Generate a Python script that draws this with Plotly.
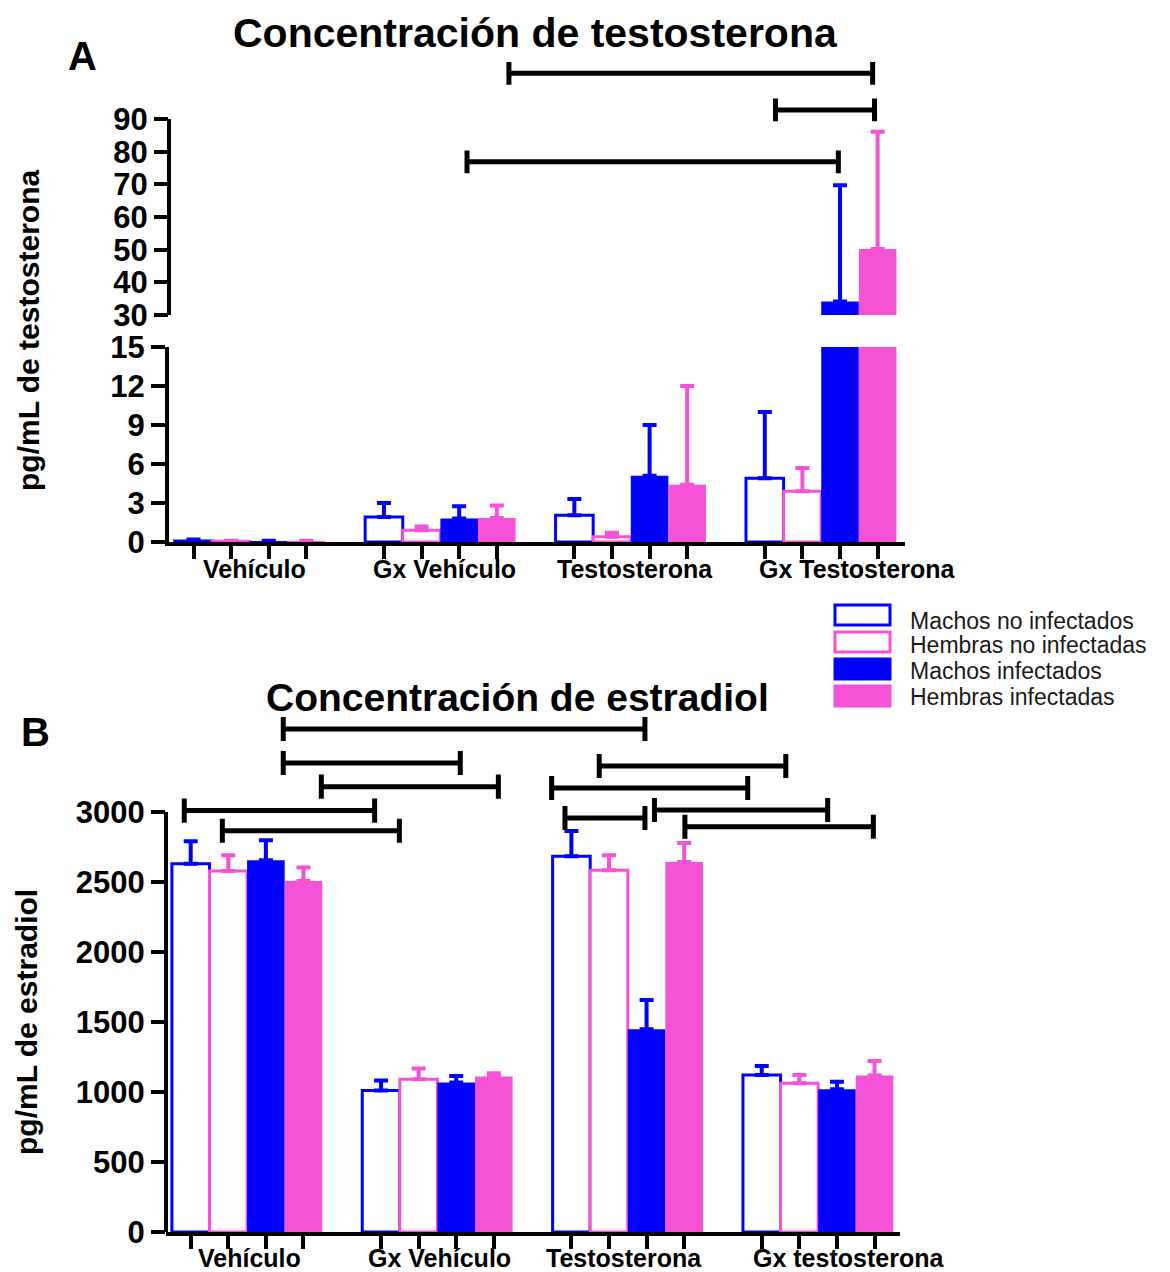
import plotly.graph_objects as go

# ---------------- data ----------------
groups_testo = ["Vehículo", "Gx Vehículo", "Testosterona", "Gx Testosterona"]
groups_estra = ["Vehículo", "Gx Vehículo", "Testosterona", "Gx testosterona"]
series_names = ["Machos no infectados", "Hembras no infectadas",
                "Machos infectados", "Hembras infectadas"]

# Testosterone (pg/mL), mean and upper error
testo_machos_no_inf = [0.08, 1.92, 2.05, 4.9]
testo_machos_no_inf_err = [0.12, 1.08, 1.25, 5.1]
testo_hembras_no_inf = [0.05, 0.9, 0.4, 3.9]
testo_hembras_no_inf_err = [0.05, 0.3, 0.32, 1.8]
testo_machos_inf = [0.05, 1.8, 5.1, 34.1]
testo_machos_inf_err = [0.05, 0.95, 3.9, 35.6]
testo_hembras_inf = [0.05, 1.85, 4.4, 50.2]
testo_hembras_inf_err = [0.05, 0.95, 7.6, 35.9]

# Estradiol (pg/mL), mean and upper error
estra_machos_no_inf = [2631, 1010, 2684, 1122]
estra_machos_no_inf_err = [160, 72, 180, 64]
estra_hembras_no_inf = [2579, 1091, 2584, 1063]
estra_hembras_no_inf_err = [112, 76, 107, 59]
estra_machos_inf = [2655, 1067, 1448, 1020]
estra_machos_inf_err = [143, 48, 209, 54]
estra_hembras_inf = [2508, 1110, 2643, 1117]
estra_hembras_inf_err = [95, 24, 136, 105]

# significance brackets: (x start, x end, level) in axis units
brackets_testo = [(1.36, 3.27, 104.0), (2.76, 3.28, 92.8), (1.14, 3.09, 76.9)]
brackets_estra = [(0.19, 2.09, 3593), (0.19, 1.12, 3350), (0.39, 1.32, 3181),
                  (-0.33, 0.67, 3010), (-0.13, 0.80, 2866), (1.60, 2.63, 3171),
                  (1.85, 2.83, 3329), (1.67, 2.09, 2957), (2.14, 3.05, 3014),
                  (2.30, 3.29, 2895)]

testo_ticks_low = [0, 3, 6, 9, 12, 15]
testo_ticks_high = [30, 40, 50, 60, 70, 80, 90]
estra_ticks = [0, 500, 1000, 1500, 2000, 2500, 3000]

# ---------------- style ----------------
PAGE_W, PAGE_H = 1170, 1272
BODY = 8  # default page margin around the figure
W_FIG, H_FIG = PAGE_W - 2 * BODY, PAGE_H - BODY
BLUE = "#0000FF"
PINK = "#F552D6"
colors = [BLUE, PINK, BLUE, PINK]
filled = [False, False, True, True]
FONT = "Liberation Sans, Arial, sans-serif"
BARGAP = 0.21
BW = (1 - BARGAP) / 4
bar_pos = [g + (k - 1.5) * BW for g in range(4) for k in range(4)]


def fx(p):
    return (p - BODY) / W_FIG


def fy(p):
    return 1 - (p - BODY) / H_FIG


testo_vals = [testo_machos_no_inf, testo_hembras_no_inf, testo_machos_inf, testo_hembras_inf]
testo_errs = [testo_machos_no_inf_err, testo_hembras_no_inf_err, testo_machos_inf_err, testo_hembras_inf_err]
estra_vals = [estra_machos_no_inf, estra_hembras_no_inf, estra_machos_inf, estra_hembras_inf]
estra_errs = [estra_machos_no_inf_err, estra_hembras_no_inf_err, estra_machos_inf_err, estra_hembras_inf_err]


def bar(k, y, err, xa, ya):
    c = colors[k]
    return go.Bar(
        x=list(range(len(y))), y=y, name=series_names[k], xaxis=xa, yaxis=ya,
        offsetgroup=str(k), showlegend=False,
        marker=dict(color=c if filled[k] else "white",
                    line=dict(color=c, width=0 if filled[k] else 3)),
        error_y=dict(type="data", array=err, arrayminus=[0] * len(err),
                     symmetric=False, color=c, thickness=4, width=7),
    )


fig = go.Figure()
for k in range(4):
    fig.add_trace(bar(k, testo_vals[k], testo_errs[k], "x", "y"))
    fig.add_trace(bar(k, testo_vals[k], testo_errs[k], "x2", "y2"))
    fig.add_trace(bar(k, estra_vals[k], estra_errs[k], "x3", "y3"))

tickfont = dict(family=FONT, size=31, color="black", weight="bold")
xcommon = dict(showgrid=False, zeroline=False, showline=True, linewidth=4,
               linecolor="black", ticks="outside", ticklen=13, tickwidth=4,
               tickcolor="black", tickvals=bar_pos, ticktext=[""] * len(bar_pos),
               automargin=False)
ycommon = dict(showgrid=False, zeroline=False, ticks="outside", ticklen=14,
               tickwidth=4, tickcolor="black", tickfont=tickfont, linewidth=4,
               linecolor="black", automargin=False)

XA = [fx(169), fx(905)]
XB = [fx(166), fx(900)]
fig.update_layout(
    width=W_FIG, height=H_FIG, margin=dict(l=0, r=0, t=0, b=0, pad=0),
    autosize=False,
    paper_bgcolor="white", plot_bgcolor="white",
    barmode="group", bargap=BARGAP, bargroupgap=0,
    xaxis=dict(domain=XA, range=[-0.425, 3.44], anchor="y", **xcommon),
    yaxis=dict(domain=[fy(542), fy(347)], range=[0, 15], anchor="x",
               tickvals=testo_ticks_low, showline=True, **ycommon),
    xaxis2=dict(domain=XA, range=[-0.425, 3.44], anchor="y2",
                visible=False, automargin=False),
    yaxis2=dict(domain=[fy(315), fy(57)], range=[30, 109], anchor="x2",
                tickvals=testo_ticks_high, showline=False, **ycommon),
    xaxis3=dict(domain=XB, range=[-0.426, 3.43], anchor="y3", **xcommon),
    yaxis3=dict(domain=[fy(1232), fy(714)], range=[0, 3700], anchor="x3",
                tickvals=estra_ticks, showline=False, **ycommon),
    font=dict(family=FONT, color="black"),
)

shapes = []
# custom y-axis lines (range extended above for brackets)
shapes.append(dict(type="line", xref="x2 domain", yref="y2", x0=0, x1=0,
                   y0=testo_ticks_high[0], y1=testo_ticks_high[-1],
                   line=dict(color="black", width=4)))
shapes.append(dict(type="line", xref="x3 domain", yref="y3", x0=0, x1=0,
                   y0=estra_ticks[0], y1=estra_ticks[-1],
                   line=dict(color="black", width=4)))


def bracket_path(x0, x1, y, c):
    return (f"M{x0},{y - c} L{x0},{y + c} M{x0},{y} L{x1},{y} "
            f"M{x1},{y - c} L{x1},{y + c}")


for x0, x1, y in brackets_testo:
    shapes.append(dict(type="path", xref="x2", yref="y2",
                       path=bracket_path(x0, x1, y, 3.5),
                       line=dict(color="black", width=5)))
for x0, x1, y in brackets_estra:
    shapes.append(dict(type="path", xref="x3", yref="y3",
                       path=bracket_path(x0, x1, y, 86),
                       line=dict(color="black", width=5)))

# legend swatches
leg_tops = [605, 632, 659, 686]
leg_text_y = [621, 645, 671, 697]
annotations = []
for k in range(4):
    shapes.append(dict(type="rect", xref="paper", yref="paper",
                       x0=fx(835), x1=fx(890), y0=fy(leg_tops[k] + 20), y1=fy(leg_tops[k]),
                       fillcolor=colors[k] if filled[k] else "white",
                       line=dict(color=colors[k], width=3)))
    annotations.append(dict(xref="paper", yref="paper", x=fx(908), y=fy(leg_text_y[k]),
                            text=series_names[k], showarrow=False, xanchor="left",
                            yanchor="middle",
                            font=dict(family=FONT, size=23, color="#1a1a1a")))

# group labels
label_font = dict(family=FONT, size=25, color="black", weight="bold")
shift_testo = [5, 4, 4, 36]
shift_estra = [2, 2, -4, 30]
for i, g in enumerate(groups_testo):
    annotations.append(dict(xref="x", yref="y domain", x=i, y=0, yshift=-27,
                            xshift=shift_testo[i], text=g, showarrow=False,
                            yanchor="middle", font=label_font))
for i, g in enumerate(groups_estra):
    annotations.append(dict(xref="x3", yref="y3 domain", x=i, y=0, yshift=-26,
                            xshift=shift_estra[i], text=g, showarrow=False,
                            yanchor="middle", font=label_font))

annotations += [
    dict(xref="paper", yref="paper", x=fx(535), y=fy(33), text="Concentración de testosterona",
         showarrow=False, xanchor="center", yanchor="middle",
         font=dict(family=FONT, size=41, color="black", weight="bold")),
    dict(xref="paper", yref="paper", x=fx(82), y=fy(56), text="A",
         showarrow=False, xanchor="center", yanchor="middle",
         font=dict(family=FONT, size=40, color="black", weight="bold")),
    dict(xref="paper", yref="paper", x=fx(517), y=fy(697), text="Concentración de estradiol",
         showarrow=False, xanchor="center", yanchor="middle",
         font=dict(family=FONT, size=39, color="black", weight="bold")),
    dict(xref="paper", yref="paper", x=fx(35), y=fy(732), text="B",
         showarrow=False, xanchor="center", yanchor="middle",
         font=dict(family=FONT, size=40, color="black", weight="bold")),
    dict(xref="paper", yref="paper", x=fx(29), y=fy(331), text="pg/mL de testosterona",
         showarrow=False, textangle=-90, xanchor="center", yanchor="middle",
         font=dict(family=FONT, size=30, color="black", weight="bold")),
    dict(xref="paper", yref="paper", x=fx(27), y=fy(1022), text="pg/mL de estradiol",
         showarrow=False, textangle=-90, xanchor="center", yanchor="middle",
         font=dict(family=FONT, size=30, color="black", weight="bold")),
]

fig.update_layout(shapes=shapes, annotations=annotations)
fig.write_html("out.html")
